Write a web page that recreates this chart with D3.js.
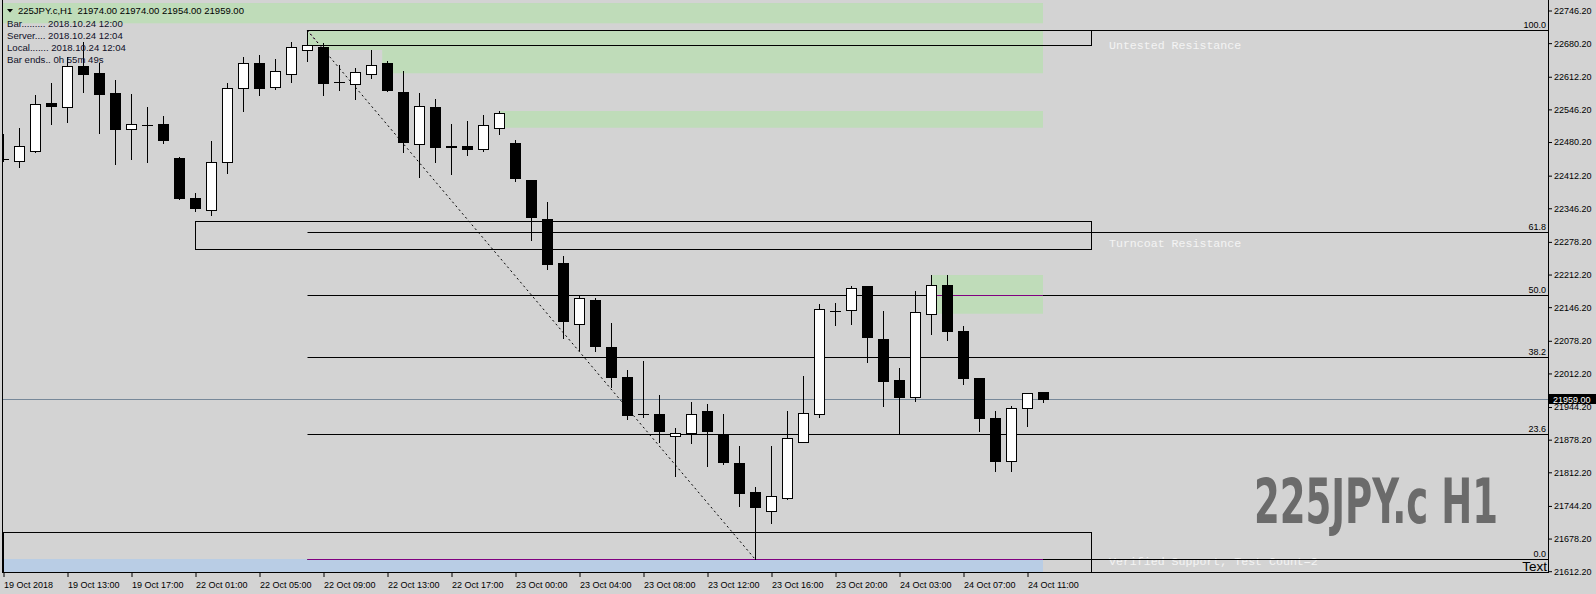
<!DOCTYPE html>
<html><head><meta charset="utf-8">
<script src="https://cdn.jsdelivr.net/npm/d3@7"></script>
<style>
html,body{margin:0;padding:0;background:#d3d3d3;overflow:hidden}
svg{display:block}
</style></head><body>
<svg id="c" width="1596" height="594"></svg>
<script>
// ---------------- DATA ----------------
const opens  = [22444,22440,22462,22558,22551,22632,22619,22578,22505,22514,22516,22447,22366,22341,22438,22588,22640,22590,22616,22665,22671,22601,22596,22616,22639,22580,22476,22550,22472,22471,22466,22507,22477,22402,22323,22235,22112,22160,22065,22003,21929,21929,21885,21890,21935,21888,21830,21771,21732,21760,21873,21930,22137,22139,22188,22081,21998,21963,22131,22191,22097,22002,21921,21835,21941,21974];
const highs  = [22495,22507,22574,22599,22652,22681,22640,22605,22576,22550,22532,22448,22376,22481,22599,22651,22655,22647,22681,22705.7,22679,22635,22629,22665,22644,22623,22578,22566,22516,22522,22534,22541,22483,22403,22358,22249,22168,22163,22113,22018,22036,21968,21901,21953,21950,21929,21864,21781,21864,21935,22006,22152,22154,22188,22189,22137,22022,22178,22210,22210,22107,22002,21935,21946,21971,21974];
const lows   = [22441,22429,22460,22516,22519,22581,22498,22435,22445,22439,22478,22364,22340,22331,22417,22541,22575,22586,22601,22643,22574,22585,22566,22609,22583,22460,22408,22439,22415,22453,22462,22496,22401,22282,22223,22083,22058,22057,21983,21918,21924,21873,21804,21870,21823,21827,21743,21635.8,21709,21758,21873,21924,22110,22112,22035,21946,21891,21956,22090,22079,21990,21895,21814,21814,21905,21954];
const closes = [22444,22471,22557,22553,22632,22617,22577,22506,22515,22514,22484,22365,22346,22438,22588,22640,22589,22622,22671,22675,22599,22601,22620,22634,22584,22480,22553,22470,22470,22466,22514,22538,22406,22328,22233,22118,22163,22067,22003,21928,21929,21894,21890,21929,21894,21833,21770,21742,21763,21880,21931,22141,22137,22183,22085,21996,21963,22135,22191,22096,22001,21922,21835,21941,21971,21959];

const timeTickBars   = [0,4,8,12,16,20,24,28,32,36,40,44,48,52,56,60,64];
const timeTickLabels = ["19 Oct 2018","19 Oct 13:00","19 Oct 17:00","22 Oct 01:00","22 Oct 05:00","22 Oct 09:00","22 Oct 13:00","22 Oct 17:00","23 Oct 00:00","23 Oct 04:00","23 Oct 08:00","23 Oct 12:00","23 Oct 16:00","23 Oct 20:00","24 Oct 03:00","24 Oct 07:00","24 Oct 11:00"];
const priceTicks = [22746.2,22680.2,22612.2,22546.2,22480.2,22412.2,22346.2,22278.2,22212.2,22146.2,22078.2,22012.2,21944.2,21878.2,21812.2,21744.2,21678.2,21612.2];

const fibRatios = [100,61.8,50,38.2,23.6,0];
const fibHighBar = 19, fibLowBar = 47, fibHigh = 22705.7, fibLow = 21635.8;

// supply / demand zones: [fromBar, toBar, topPrice, bottomPrice]
const greenZones = [
  [0, 65, 22760.3, 22719.3],
  [19, 65, 22705.1, 22674.8],
  [20, 65, 22674.8, 22665.3],
  [23.7, 65, 22665.3, 22618.2],
  [31, 65, 22541.9, 22508.1],
  [58, 65, 22210.2, 22131.9]
];
const blueZones = [[0, 65, 21635.8, 21609.5]];
// zone boxes: [fromBar, toBar, topPrice, bottomPrice, label]
const zoneBoxes = [
  [19, 68, 22705.4, 22674.8, "Untested Resistance"],
  [12, 68, 22320.4, 22262.2, "Turncoat Resistance"],
  [0, 68, 21689.8, 21609.9, "Verified Support, Test Count=2"]
];
const zoneLabelY = [22674.8, 22275.0, 21632.0];

const currentPrice = 21959.00;
const headerSymbol = "225JPY.c,H1";
const headerOHLC = ["21974.00","21974.00","21954.00","21959.00"];
const infoLines = ["Bar......... 2018.10.24 12:00","Server.... 2018.10.24 12:04","Local....... 2018.10.24 12:04","Bar ends.. 0h 55m 49s"];
const watermark = "225JPY.c H1";

// ---------------- DRAW ----------------
const W = 1596, H = 594;
const pL = 2, pR = 1548, pT = 0, pB = 572;
const svg = d3.select("#c");
const x = d3.scaleLinear().domain([0, 1]).range([3, 19]);
const y = d3.scaleLinear().domain([21612.2, 22746.2]).range([570.7, 10]);
const px = v => Math.round(v) + 0.5;
const sansFont = '"Liberation Sans", Arial, sans-serif';
const monoFont = '"Liberation Mono", "Courier New", monospace';

svg.append("rect").attr("width", W).attr("height", H).attr("fill", "#d3d3d3");

const defs = svg.append("defs");
defs.append("clipPath").attr("id", "plot")
  .append("rect").attr("x", pL + 1).attr("y", pT).attr("width", pR - pL - 1).attr("height", pB - pT);
const zc = defs.append("clipPath").attr("id", "zoneclip");
greenZones.concat(blueZones).forEach(z => {
  zc.append("rect").attr("x", x(z[0])).attr("width", x(z[1]) - x(z[0]))
    .attr("y", y(z[2])).attr("height", y(z[3]) - y(z[2]));
});

const plot = svg.append("g").attr("clip-path", "url(#plot)");

// zones
plot.selectAll("rect.gz").data(greenZones).join("rect").attr("class", "gz")
  .attr("x", d => x(d[0])).attr("width", d => x(d[1]) - x(d[0]))
  .attr("y", d => y(d[2])).attr("height", d => y(d[3]) - y(d[2]))
  .attr("fill", "#bfdcb9");
plot.selectAll("rect.bz").data(blueZones).join("rect").attr("class", "bz")
  .attr("x", d => x(d[0])).attr("width", d => x(d[1]) - x(d[0]))
  .attr("y", d => y(d[2])).attr("height", d => y(d[3]) - y(d[2]))
  .attr("fill", "#b9cde5");

// fibonacci
const fibPrice = r => fibLow + (fibHigh - fibLow) * r / 100;
plot.selectAll("line.fib").data(fibRatios).join("line").attr("class", "fib")
  .attr("x1", px(x(fibHighBar))).attr("x2", pR)
  .attr("y1", d => px(y(fibPrice(d)))).attr("y2", d => px(y(fibPrice(d))))
  .attr("stroke", "#000").attr("stroke-width", 1);
const purple = plot.append("g").attr("clip-path", "url(#zoneclip)");
purple.selectAll("line").data(fibRatios).join("line")
  .attr("x1", px(x(fibHighBar))).attr("x2", pR)
  .attr("y1", d => px(y(fibPrice(d)))).attr("y2", d => px(y(fibPrice(d))))
  .attr("stroke", "#800080").attr("stroke-width", 1);

// current price line
plot.append("line").attr("x1", pL).attr("x2", pR)
  .attr("y1", px(y(currentPrice))).attr("y2", px(y(currentPrice)))
  .attr("stroke", "#778899");

// zone boxes
plot.selectAll("rect.box").data(zoneBoxes).join("rect").attr("class", "box")
  .attr("x", d => px(x(d[0]))).attr("width", d => Math.round(x(d[1])) - Math.round(x(d[0])))
  .attr("y", d => px(y(d[2]))).attr("height", d => Math.round(y(d[3])) - Math.round(y(d[2])))
  .attr("fill", "none").attr("stroke", "#000");

// fib diagonal
const diag = [[fibHighBar, fibHigh], [fibLowBar, fibLow]];
plot.append("line").attr("x1", x(diag[0][0])).attr("y1", y(diag[0][1]))
  .attr("x2", x(diag[1][0])).attr("y2", y(diag[1][1]))
  .attr("stroke", "#000").attr("stroke-dasharray", "2,3");
purple.append("line").attr("x1", x(diag[0][0])).attr("y1", y(diag[0][1]))
  .attr("x2", x(diag[1][0])).attr("y2", y(diag[1][1]))
  .attr("stroke", "#800080").attr("stroke-dasharray", "2,3");

// candles
const idx = d3.range(opens.length);
const cg = plot.append("g");
idx.forEach(i => {
  const cx = Math.round(x(i));
  const o = opens[i], c = closes[i];
  const bull = c >= o;
  cg.append("line").attr("x1", cx + 0.5).attr("x2", cx + 0.5)
    .attr("y1", Math.round(y(highs[i]))).attr("y2", Math.round(y(lows[i])) + 1)
    .attr("stroke", "#000");
  const t = Math.round(y(Math.max(o, c))), b = Math.round(y(Math.min(o, c)));
  if (b - t < 1) {
    cg.append("line").attr("x1", cx - 5).attr("x2", cx + 6)
      .attr("y1", t + 0.5).attr("y2", t + 0.5).attr("stroke", "#000");
  } else {
    cg.append("rect").attr("x", cx - 4.5).attr("width", 10)
      .attr("y", t + 0.5).attr("height", b - t)
      .attr("fill", bull ? "#fff" : "#000").attr("stroke", "#000");
  }
});

// zone labels
svg.selectAll("text.zl").data(zoneBoxes).join("text").attr("class", "zl")
  .attr("x", d => x(d[1]) + 18)
  .attr("y", (d, i) => y(zoneLabelY[i]) + 4)
  .attr("font-family", monoFont).attr("font-size", "11.6px").attr("fill", "#f4f4f4")
  .text(d => d[4]);
// 0.0 line passes over the support label
svg.append("line").attr("x1", x(68)).attr("x2", pR)
  .attr("y1", px(y(fibPrice(0)))).attr("y2", px(y(fibPrice(0)))).attr("stroke", "#000");

// fib labels
svg.selectAll("text.fl").data(fibRatios).join("text").attr("class", "fl")
  .attr("x", pR - 2).attr("y", d => Math.round(y(fibPrice(d))) - 2)
  .attr("text-anchor", "end").attr("font-family", sansFont).attr("font-size", "9px").attr("fill", "#000")
  .text(d => d3.format(".1f")(d));

// frame
svg.append("line").attr("x1", pL + 0.5).attr("x2", pL + 0.5).attr("y1", pT).attr("y2", pB + 1).attr("stroke", "#000");
svg.append("line").attr("x1", pL).attr("x2", pR + 1).attr("y1", pB + 0.5).attr("y2", pB + 0.5).attr("stroke", "#000");
svg.append("line").attr("x1", pR + 0.5).attr("x2", pR + 0.5).attr("y1", pT).attr("y2", pB + 1).attr("stroke", "#000");

// bottom axis
const xAxis = d3.axisBottom(x).tickValues(timeTickBars)
  .tickFormat((d, i) => timeTickLabels[i]).tickSize(4).tickSizeOuter(0);
const gx = svg.append("g").attr("transform", `translate(0.5,${pB + 1})`).call(xAxis);
gx.select(".domain").remove();
gx.selectAll("line").attr("stroke", "#000");
gx.selectAll("text").attr("text-anchor", "start").attr("x", 0).attr("dy", 0).attr("y", 15)
  .attr("font-family", sansFont).attr("font-size", "9px").attr("fill", "#000");

// right axis
const yAxis = d3.axisRight(y).tickValues(priceTicks).tickFormat(d3.format(".2f")).tickSize(3).tickPadding(2);
const gy = svg.append("g").attr("transform", `translate(${pR + 1},0.5)`).call(yAxis);
gy.select(".domain").remove();
gy.selectAll("line").attr("stroke", "#000");
gy.selectAll("text").attr("font-family", sansFont).attr("font-size", "9px").attr("fill", "#000");

// current price tag
const cpY = Math.round(y(currentPrice));
svg.append("rect").attr("x", pR + 1).attr("y", cpY - 5).attr("width", W - pR - 1).attr("height", 10).attr("fill", "#000");
svg.append("text").attr("x", pR + 5).attr("y", cpY + 3.5)
  .attr("font-family", sansFont).attr("font-size", "9px").attr("fill", "#fff").text(d3.format(".2f")(currentPrice));

// header
svg.append("path").attr("d", "M7,9 L13,9 L10,12.5 Z").attr("fill", "#000");
svg.append("text").attr("x", 18).attr("y", 14)
  .attr("font-family", sansFont).attr("font-size", "9.5px").attr("fill", "#000")
  .attr("xml:space", "preserve")
  .text(headerSymbol + "  " + headerOHLC.join(" "));
svg.selectAll("text.info").data(infoLines).join("text").attr("class", "info")
  .attr("x", 7).attr("y", (d, i) => 26.5 + i * 12.2)
  .attr("font-family", sansFont).attr("font-size", "9.6px").attr("fill", "#101028")
  .text(d => d);

// watermark (scaled horizontally to a condensed look)
const wm = svg.append("text").attr("x", 0).attr("y", 0)
  .attr("font-family", '"Liberation Sans Narrow", "DejaVu Sans Condensed", "Liberation Sans", sans-serif')
  .attr("font-weight", "bold").attr("font-size", "63px").attr("fill", "#6b6b6b")
  .text(watermark);
const wmLen = wm.node().getComputedTextLength() || 244;
wm.attr("transform", `translate(1254,523) scale(${244 / wmLen},1)`);

// "Text" object
svg.append("text").attr("x", pR - 1).attr("y", 570.5).attr("text-anchor", "end")
  .attr("font-family", sansFont).attr("font-size", "13.5px").attr("fill", "#000").text("Text");
</script>
</body></html>
